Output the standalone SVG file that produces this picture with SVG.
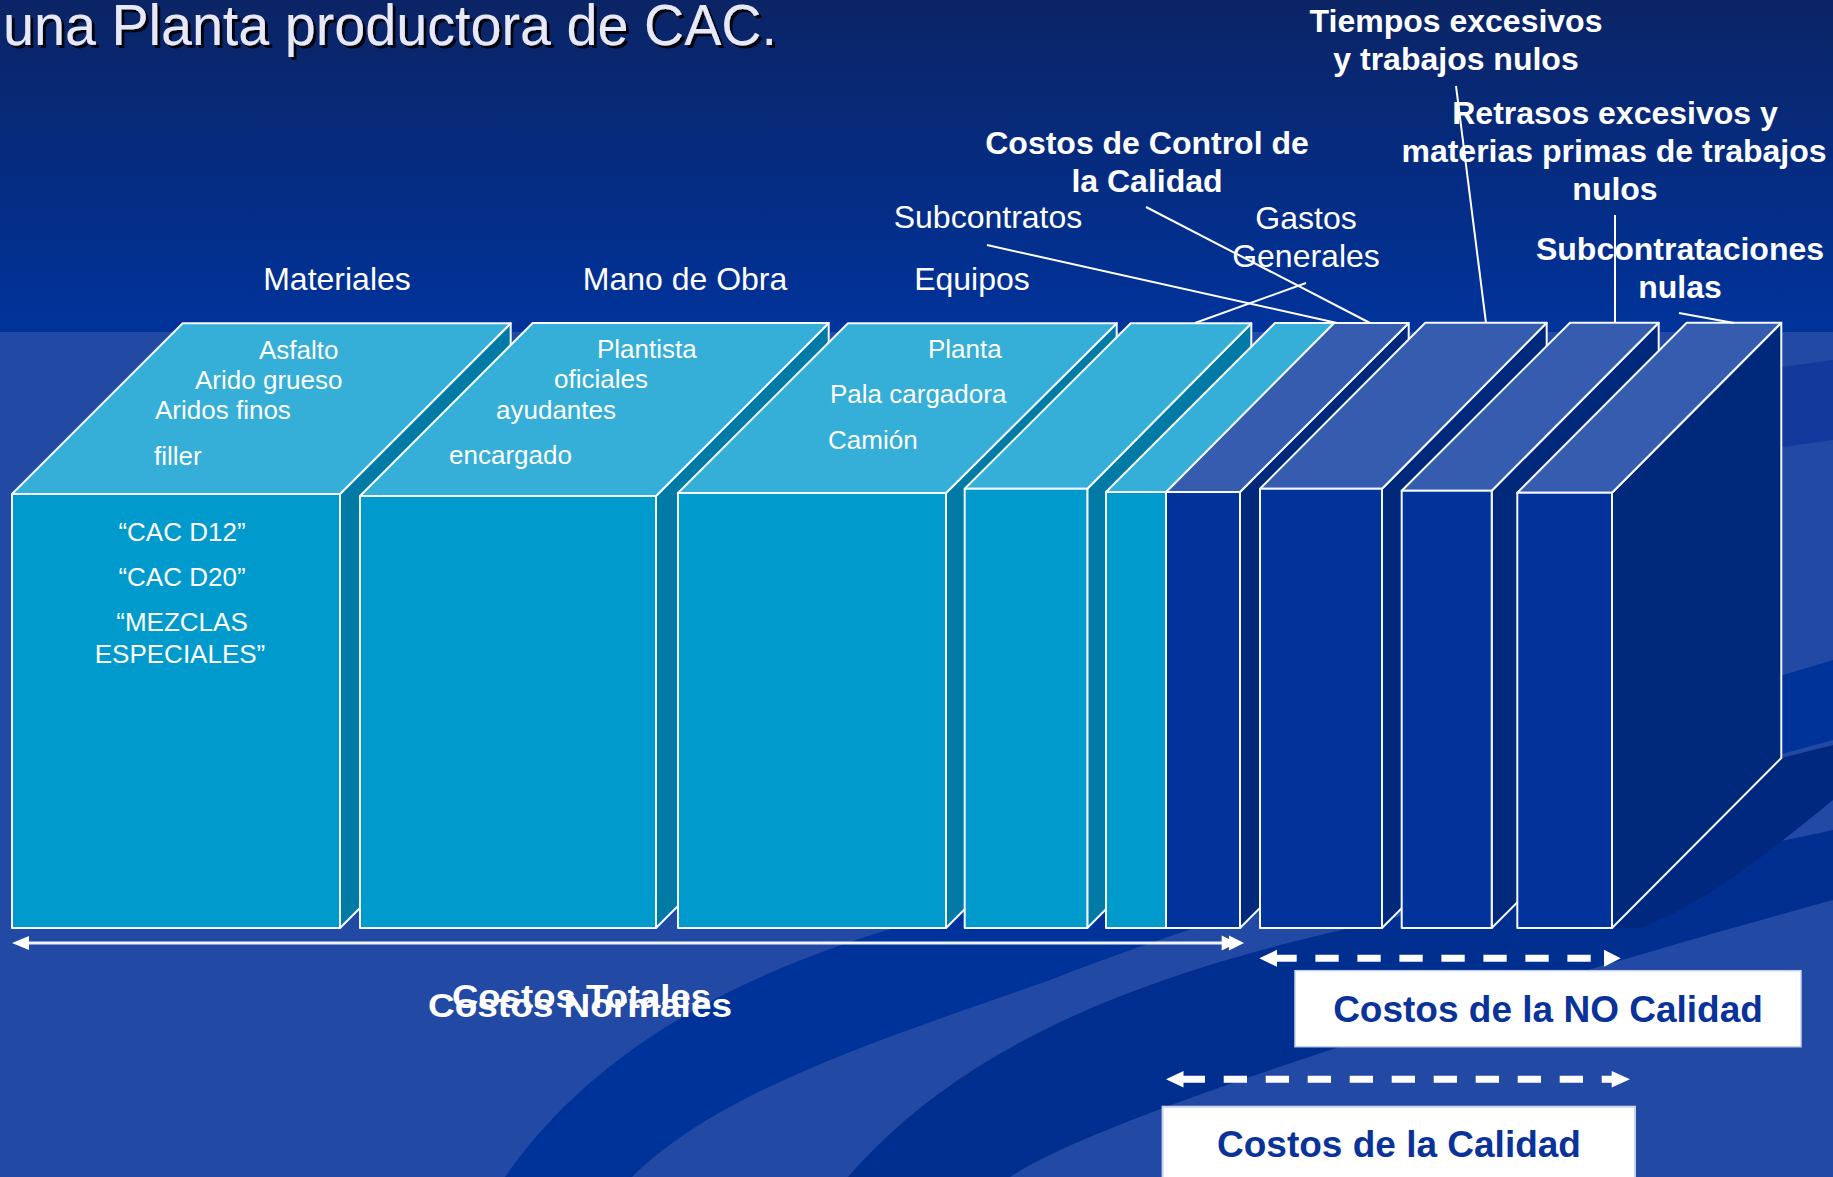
<svg xmlns="http://www.w3.org/2000/svg" width="1833" height="1177" viewBox="0 0 1833 1177">
<defs>
<linearGradient id="topbg" x1="0" y1="0" x2="0" y2="1">
<stop offset="0" stop-color="#0b2465"/>
<stop offset="1" stop-color="#00339b"/>
</linearGradient>
<filter id="sh" x="-5%" y="-20%" width="110%" height="150%">
<feDropShadow dx="3" dy="3" stdDeviation="0.6" flood-color="#000" flood-opacity="0.9"/>
</filter>
</defs>
<style>
.ct{fill:#35aed8;stroke:#f4f8ff;stroke-width:2;stroke-linejoin:round}
.cf{fill:#019acd;stroke:#f4f8ff;stroke-width:2;stroke-linejoin:round}
.cs{fill:#017ba6;stroke:#f4f8ff;stroke-width:2;stroke-linejoin:round}
.dt{fill:#355cae;stroke:#f4f8ff;stroke-width:2;stroke-linejoin:round}
.df{fill:#01339a;stroke:#f4f8ff;stroke-width:2;stroke-linejoin:round}
.ds{fill:#00297c;stroke:#f4f8ff;stroke-width:2;stroke-linejoin:round}
text{font-family:"Liberation Sans",Arial,sans-serif;fill:#ffffff}
.lbl{font-size:32px}
.lblb{font-size:32px;font-weight:bold}
.in{font-size:26px}
.big{font-size:37px;font-weight:bold}
.mid{font-size:34px;font-weight:bold}
.dark{fill:#0a3399}
.lead{stroke:#ffffff;stroke-width:2;fill:none}
.arr{stroke:#eef2fb;stroke-width:3;fill:none}
.dash{stroke:#ffffff;stroke-width:7;fill:none;stroke-dasharray:23.3 18.7}
.head{fill:#ffffff}
</style>

<g id="background">
<rect x="0" y="0" width="1833" height="333" fill="url(#topbg)"/>
<rect x="0" y="332" width="1833" height="845" fill="#2249a3"/>
<path d="M1833,360 C1600,390 1300,460 1000,560 L1000,640 C1300,540 1600,470 1833,440 Z" fill="#14399d"/>
<path d="M505,1177 C600,1040 760,960 960,910 C1150,860 1500,760 1833,660 L1833,740 C1500,830 1200,920 1050,980 C880,1040 720,1090 632,1177 Z" fill="#00339a"/>
<path d="M848,1177 C950,1060 1100,990 1300,940 C1500,890 1700,860 1833,830 L1833,900 C1650,950 1450,1010 1300,1060 C1150,1110 1050,1150 1010,1177 Z" fill="#002f90"/>
<path d="M1612,928 L1781,758 L1833,745 L1833,800 C1760,860 1700,905 1640,928 Z" fill="#00287e"/>
</g>

<g id="title">
<text x="3" y="45" font-size="58" textLength="774" lengthAdjust="spacingAndGlyphs" style="fill:#e8e8fb" filter="url(#sh)">una Planta productora de CAC.</text>
</g>

<g id="box-materiales">
<polygon class="cs" points="340,494 510.7,323.3 510.7,757.3 340,928"/>
<polygon class="ct" points="12,494 182.7,323.3 510.7,323.3 340,494"/>
<rect class="cf" x="12" y="494" width="328" height="434"/>
<text class="in" x="259" y="359">Asfalto</text>
<text class="in" x="195" y="389">Arido grueso</text>
<text class="in" x="155" y="419">Aridos finos</text>
<text class="in" x="154" y="465">filler</text>
<text class="in" x="182" y="541" text-anchor="middle">“CAC D12”</text>
<text class="in" x="182" y="586" text-anchor="middle">“CAC D20”</text>
<text class="in" x="182" y="631" text-anchor="middle">“MEZCLAS</text>
<text class="in" x="180" y="663" text-anchor="middle">ESPECIALES”</text>
</g>

<g id="box-mano-obra">
<polygon class="cs" points="656,496 828.7,323 828.7,755 656,928"/>
<polygon class="ct" points="360,496 532.7,323 828.7,323 656,496"/>
<rect class="cf" x="360" y="496" width="296" height="432"/>
<text class="in" x="597" y="358">Plantista</text>
<text class="in" x="554" y="388">oficiales</text>
<text class="in" x="496" y="419">ayudantes</text>
<text class="in" x="449" y="464">encargado</text>
</g>

<g id="box-equipos">
<polygon class="cs" points="946,493 1116.7,323.3 1116.7,757 946,928"/>
<polygon class="ct" points="678,493 848,323.3 1116.7,323.3 946,493"/>
<rect class="cf" x="678" y="493" width="268" height="435"/>
<text class="in" x="928" y="358">Planta</text>
<text class="in" x="830" y="403">Pala cargadora</text>
<text class="in" x="828" y="449">Camión</text>
</g>

<g id="box-subcontratos">
<polygon class="cs" points="1087.3,488.7 1251.3,323.3 1251.3,763 1087.3,928"/>
<polygon class="ct" points="964.7,488.7 1130.7,323.3 1251.3,323.3 1087.3,488.7"/>
<rect class="cf" x="964.7" y="488.7" width="122.6" height="439.3"/>
</g>

<g id="box-gastos-control">
<polygon class="ds" points="1240,492 1408.7,323 1408.7,759 1240,928"/>
<polygon class="dt" points="1166,492 1334,323 1408.7,323 1240,492"/>
<polygon class="ct" points="1106,492 1275,323 1334,323 1166,492"/>
<rect class="df" x="1166" y="492" width="74" height="436"/>
<rect class="cf" x="1106" y="492" width="60" height="436"/>
</g>

<g id="box-tiempos">
<polygon class="ds" points="1382,488.7 1546.7,322.7 1546.7,763 1382,928"/>
<polygon class="dt" points="1260,488.7 1425.3,322.7 1546.7,322.7 1382,488.7"/>
<rect class="df" x="1260" y="488.7" width="122" height="439.3"/>
</g>

<g id="box-retrasos">
<polygon class="ds" points="1491.7,490.7 1658.7,322.7 1658.7,761 1491.7,928"/>
<polygon class="dt" points="1401.7,490.7 1570,322.7 1658.7,322.7 1491.7,490.7"/>
<rect class="df" x="1401.7" y="490.7" width="90" height="437.3"/>
</g>

<g id="box-subcontrataciones">
<polygon class="ds" points="1612,492.7 1781.3,322.7 1781.3,758 1612,928"/>
<polygon class="dt" points="1517.3,492.7 1686.7,322.7 1781.3,322.7 1612,492.7"/>
<rect class="df" x="1517.3" y="492.7" width="94.7" height="435.3"/>
</g>

<g id="labels">
<text class="lbl" x="337" y="290" text-anchor="middle">Materiales</text>
<text class="lbl" x="685" y="290" text-anchor="middle">Mano de Obra</text>
<text class="lbl" x="972" y="290" text-anchor="middle">Equipos</text>
<text class="lbl" x="988" y="228" text-anchor="middle">Subcontratos</text>
<text class="lbl" x="1306" y="229" text-anchor="middle">Gastos</text>
<text class="lbl" x="1306" y="267" text-anchor="middle">Generales</text>
<text class="lblb" x="1147" y="154" text-anchor="middle">Costos de Control de</text>
<text class="lblb" x="1147" y="192" text-anchor="middle">la Calidad</text>
<text class="lblb" x="1456" y="32" text-anchor="middle">Tiempos excesivos</text>
<text class="lblb" x="1456" y="70" text-anchor="middle">y trabajos nulos</text>
<text class="lblb" x="1615" y="124" text-anchor="middle">Retrasos excesivos y</text>
<text class="lblb" x="1614" y="162" text-anchor="middle">materias primas de trabajos</text>
<text class="lblb" x="1615" y="200" text-anchor="middle">nulos</text>
<text class="lblb" x="1680" y="260" text-anchor="middle">Subcontrataciones</text>
<text class="lblb" x="1680" y="298" text-anchor="middle">nulas</text>
</g>

<g id="connectors">
<line class="lead" x1="1456" y1="86" x2="1486" y2="323"/>
<line class="lead" x1="1615" y1="215" x2="1615" y2="323"/>
<line class="lead" x1="1679" y1="313" x2="1734" y2="323"/>
<line class="lead" x1="1146" y1="207" x2="1370" y2="323"/>
<line class="lead" x1="987" y1="245" x2="1337" y2="323"/>
<line class="lead" x1="1306" y1="283" x2="1195" y2="323"/>
<line class="arr" x1="24" y1="943" x2="1232" y2="943"/>
<polygon class="head" points="12,943 29,936 29,950"/>
<polygon class="head" points="1237,943 1221.7,935.5 1221.7,950.5"/>
<polygon class="head" points="1244,943 1229,935.5 1229,950.5"/>
<line class="dash" x1="1273.4" y1="958.3" x2="1604" y2="958.3"/>
<polygon class="head" points="1259.3,958.3 1277,949.8 1277,966.8"/>
<polygon class="head" points="1620.7,958.3 1604,949.8 1604,966.8"/>
<line class="dash" x1="1181.7" y1="1079.3" x2="1612" y2="1079.3"/>
<polygon class="head" points="1166,1079.3 1183.5,1071 1183.5,1087.6"/>
<polygon class="head" points="1630,1079.3 1611.7,1071 1611.7,1087.6"/>
</g>

<g id="costos-totales">
<text class="mid" x="452" y="1008" textLength="259" lengthAdjust="spacingAndGlyphs">Costos Totales</text>
<text class="mid" x="428" y="1017" textLength="304" lengthAdjust="spacingAndGlyphs">Costos Normales</text>
</g>

<g id="no-calidad">
<rect x="1295" y="970.7" width="506" height="76" fill="#ffffff" stroke="#c9d2ea" stroke-width="1.5"/>
<text class="big dark" x="1548" y="1022" text-anchor="middle">Costos de la NO Calidad</text>
</g>

<g id="calidad">
<rect x="1162.6" y="1106.7" width="472.4" height="80" fill="#ffffff" stroke="#c9d2ea" stroke-width="2"/>
<text class="big dark" x="1399" y="1157" text-anchor="middle">Costos de la Calidad</text>
</g>
</svg>
